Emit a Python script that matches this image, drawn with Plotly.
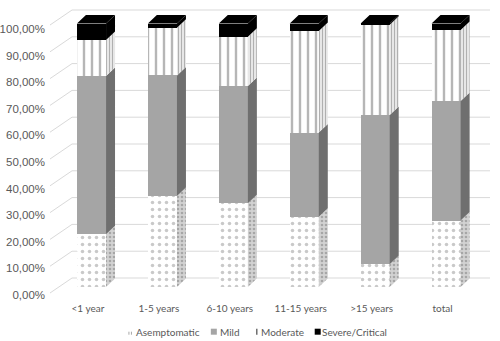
import plotly.graph_objects as go

categories = ["<1 year", "1-5 years", "6-10 years", "11-15 years", ">15 years", "total"]
asymptomatic = [20.0, 34.5, 31.8, 26.7, 8.6, 25.2]
mild = [60.1, 45.8, 44.5, 31.9, 56.7, 45.4]
moderate = [13.6, 18.1, 18.7, 38.6, 34.2, 26.9]
severe = [6.3, 1.6, 5.0, 2.8, 0.5, 2.5]
series_names = ["Asemptomatic", "Mild", "Moderate", "Severe/Critical"]
y_ticks = [0, 10, 20, 30, 40, 50, 60, 70, 80, 90, 100]
y_ticktext = ["%d,00%%" % v for v in y_ticks]

series = [asymptomatic, mild, moderate, severe]

# styling
front_patterns = [
    dict(shape=".", size=7, solidity=0.2, fgcolor="#949494", bgcolor="white"),
    dict(shape="", fgcolor="#a5a5a5", bgcolor="#a5a5a5"),
    dict(shape="|", size=8, solidity=0.3, fgcolor="#6e6e6e", bgcolor="white"),
    dict(shape="", fgcolor="black", bgcolor="black"),
]
front_colors = ["white", "#a5a5a5", "white", "black"]
side_patterns = [
    dict(shape=".", size=4, solidity=0.35, fgcolor="#7a7a7a", bgcolor="#d2d2d2"),
    None,
    dict(shape="|", size=3, solidity=0.45, fgcolor="#6e6e6e", bgcolor="#f2f2f2"),
    None,
]
side_colors = ["#c8c8c8", "#6f6f6f", "#b8b8b8", "black"]

# geometry (pixels of the 500x341 canvas)
L, R, T, B = 72.0, 490.5, 3.0, 298.0
W, H = R - L, B - T

bar_offset = 0.05
bar_w = 0.41
px_per_x = 71.0
px_per_y = 2.635
dx = 9.0 / px_per_x
dy = 8.5 / px_per_y

xs = [i + bar_offset for i in range(len(categories))]

fig = go.Figure()
for name, vals, pat, col in zip(series_names, series, front_patterns, front_colors):
    fig.add_trace(go.Bar(
        x=xs, y=vals, width=bar_w, name=name,
        marker=dict(color=col, line=dict(width=0), pattern=pat),
        xaxis="x", yaxis="y", showlegend=False,
    ))

# side faces (3D look), computed from the stacked data
cum = [0.0] * len(categories)
for k, vals in enumerate(series):
    px_, py_ = [], []
    for i, v in enumerate(vals):
        a = cum[i]
        b = a + v
        xr = xs[i] + bar_w / 2
        px_ += [xr, xr + dx, xr + dx, xr, xr, None]
        py_ += [a, a + dy, b + dy, b, a, None]
        cum[i] = b
    kw = dict(fillcolor=side_colors[k])
    if side_patterns[k] is not None:
        kw["fillpattern"] = side_patterns[k]
    fig.add_trace(go.Scatter(
        x=px_, y=py_, mode="lines", fill="toself", line=dict(width=0),
        showlegend=False, hoverinfo="skip", xaxis="x", yaxis="y", **kw,
    ))

# top faces
tx, ty = [], []
for i in range(len(categories)):
    top = cum[i]
    xl = xs[i] - bar_w / 2
    xr = xs[i] + bar_w / 2
    tx += [xl, xl + dx, xr + dx, xr, xl, None]
    ty += [top, top + dy, top + dy, top, top, None]
fig.add_trace(go.Scatter(
    x=tx, y=ty, mode="lines", fill="toself", fillcolor="black",
    line=dict(width=0), showlegend=False, hoverinfo="skip",
    xaxis="x", yaxis="y",
))

# back-wall gridlines and side-wall slanted lines
slant_dx = -22.0 / W
slant_dy = -15.0 / 2.68
shapes = []
for v in y_ticks:
    shapes.append(dict(type="line", xref="paper", yref="y2", x0=0, x1=1,
                       y0=v, y1=v, line=dict(color="#d9d9d9", width=1), layer="below"))
    shapes.append(dict(type="line", xref="paper", yref="y2", x0=slant_dx, x1=0,
                       y0=v + slant_dy, y1=v, line=dict(color="#d9d9d9", width=1), layer="below"))


def pxx(p):
    return (p - L) / W


def pxy(p):
    return (B - p) / H


font_num = "Liberation Sans, Arial, sans-serif"
font_txt = "Lato, Open Sans, sans-serif"
txt_color = "#595959"

# custom legend (compact, like the original)
leg_y = 331.7
sw_top, sw_bot = leg_y - 3, leg_y + 3
leg_items = [
    # (swatch left px, swatch right px, text left px)
    (127.5, 132.5, 134.0),
    (211.0, 217.0, 218.0),
    (256.0, 258.0, 259.0),
    (315.0, 321.0, 320.5),
]
annotations = []
for (s0, s1, tx0), name, col in zip(leg_items, series_names, front_colors):
    if name == "Asemptomatic":
        shapes.append(dict(type="line", xref="paper", yref="paper",
                           x0=pxx(129), x1=pxx(129), y0=pxy(sw_bot), y1=pxy(sw_top),
                           line=dict(color="#a8a8a8", width=1, dash="dot")))
        shapes.append(dict(type="line", xref="paper", yref="paper",
                           x0=pxx(131.5), x1=pxx(131.5), y0=pxy(sw_bot), y1=pxy(sw_top),
                           line=dict(color="#a8a8a8", width=1, dash="dot")))
    elif name == "Moderate":
        shapes.append(dict(type="line", xref="paper", yref="paper",
                           x0=pxx(257), x1=pxx(257), y0=pxy(sw_bot), y1=pxy(sw_top),
                           line=dict(color="#6e6e6e", width=1.5)))
    else:
        shapes.append(dict(type="rect", xref="paper", yref="paper",
                           x0=pxx(s0), x1=pxx(s1), y0=pxy(sw_bot), y1=pxy(sw_top),
                           fillcolor=col, line=dict(width=0)))
    annotations.append(dict(text=name, xref="paper", yref="paper", x=pxx(tx0), y=pxy(leg_y),
                            xanchor="left", yanchor="middle", showarrow=False,
                            font=dict(family=font_txt, size=10, color=txt_color)))

fig.update_layout(
    width=500, height=341,
    margin=dict(l=L, r=500 - R, t=T, b=341 - B, pad=0, autoexpand=False),
    paper_bgcolor="white", plot_bgcolor="white",
    barmode="stack", bargap=0,
    shapes=shapes, annotations=annotations,
    showlegend=False,
    xaxis=dict(range=[-0.225, 5.669], tickvals=list(range(len(categories))),
               ticktext=categories, showgrid=False, zeroline=False, showline=False,
               ticks="", automargin=False, ticklabelstandoff=3,
               tickfont=dict(family=font_txt, size=10, color=txt_color)),
    yaxis=dict(range=[-4.175, 107.78], visible=False),
    yaxis2=dict(range=[-7.46, 102.61], overlaying="y", showgrid=False, zeroline=False,
                showticklabels=False, showline=False, ticks=""),
    yaxis3=dict(range=[-1.128, 109.77], overlaying="y", side="left", anchor="x",
                tickvals=y_ticks, ticktext=y_ticktext, showgrid=False, zeroline=False,
                showline=False, ticks="", ticklabelstandoff=26, automargin=False,
                tickfont=dict(family=font_num, size=11.5, color=txt_color)),
)
# dummy traces to activate axes y2 and y3
fig.add_trace(go.Scatter(x=[None], y=[None], yaxis="y2", xaxis="x", showlegend=False, hoverinfo="skip"))
fig.add_trace(go.Scatter(x=[None], y=[None], yaxis="y3", xaxis="x", showlegend=False, hoverinfo="skip"))

fig.write_html("out.html")
